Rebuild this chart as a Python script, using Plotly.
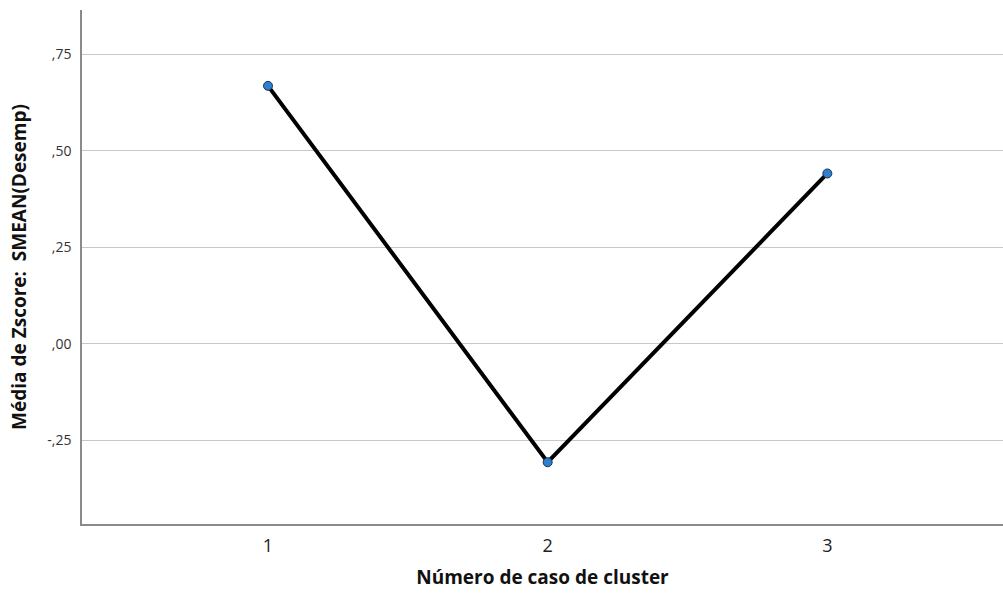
import plotly.graph_objects as go

clusters = [1, 2, 3]
means = [0.668, -0.307, 0.441]
y_tick_vals = [-0.25, 0.0, 0.25, 0.5, 0.75]
y_tick_text = ["-,25", ",00", ",25", ",50", ",75"]
x_tick_vals = [1, 2, 3]
x_tick_text = ["1", "2", "3"]

fig = go.Figure()
fig.add_trace(go.Scatter(
    x=clusters, y=means, mode="lines+markers",
    line=dict(color="#000000", width=4),
    marker=dict(size=9, color="#2e7fd0", line=dict(color="#1a3550", width=1)),
    showlegend=False,
))

fig.update_layout(
    width=1003, height=593,
    margin=dict(l=82, r=0, t=10, b=69),
    paper_bgcolor="white", plot_bgcolor="white",
    font=dict(family="Open Sans", color="#222222"),
    xaxis=dict(
        range=[0.335, 3.628], tickvals=x_tick_vals, ticktext=x_tick_text,
        showgrid=False, zeroline=False, showline=True, linecolor="#8a8a8a", linewidth=1.5,
        ticks="outside", ticklen=5, tickcolor="rgba(0,0,0,0)",
        tickfont=dict(size=18, color="#222222"),
        title=dict(text="<b>Número de caso de cluster</b>", font=dict(size=19, color="#111111"), standoff=14),
    ),
    yaxis=dict(
        range=[-0.467, 0.8645], tickvals=y_tick_vals, ticktext=y_tick_text,
        showgrid=True, gridcolor="#c8c8c8", gridwidth=1, zeroline=False,
        showline=True, linecolor="#8a8a8a", linewidth=1.5,
        ticks="outside", ticklen=6, tickcolor="rgba(0,0,0,0)",
        tickfont=dict(size=14, color="#333333"),
        title=dict(text="<b>Média de Zscore:  SMEAN(Desemp)</b>", font=dict(size=19, color="#111111"), standoff=16),
    ),
)

fig.write_html("out.html", config={"displayModeBar": False},
               post_script="document.body.style.margin='0';document.body.style.overflow='hidden';")
